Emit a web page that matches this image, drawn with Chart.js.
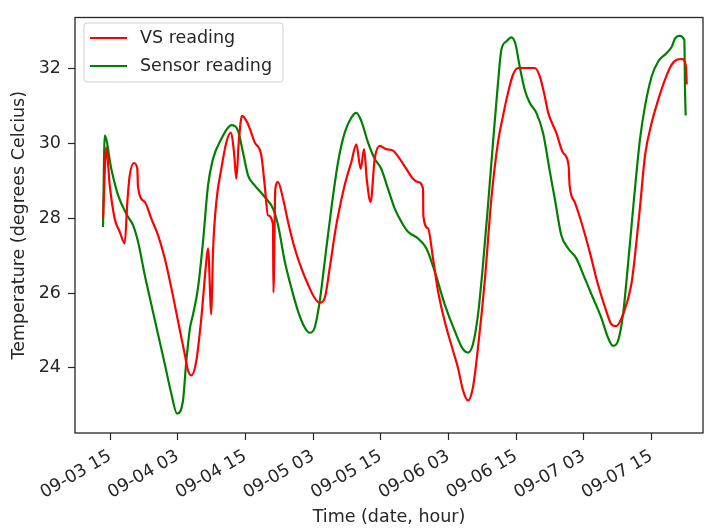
<!DOCTYPE html>
<html>
<head>
<meta charset="utf-8">
<script src="https://cdn.jsdelivr.net/npm/chart.js@4"></script>
<style>
  html, body { margin: 0; padding: 0; background: #fff; }
  #wrap { width: 705px; height: 531px; }
</style>
</head>
<body>
<div id="wrap"><canvas id="chart" width="705" height="531"></canvas></div>
<script>
// hours counted from 09-03 00:00
const vsHours = [13.76, 14.34, 14.95, 15.83, 16.72, 17.61, 18.07, 18.49, 19.26, 19.84, 19.96, 21.15, 22.32, 23.51,
  24.70, 25.87, 27.06, 28.24, 28.83, 29.41, 30.30, 31.19, 32.07, 32.38, 32.96, 33.26, 33.85, 34.73, 35.62, 36.40,
  36.99, 37.39, 37.82, 38.40, 39.34, 40.66, 41.83, 42.43, 43.01, 43.90, 43.97, 44.31, 44.79, 45.67, 46.56, 47.75,
  48.92, 50.11, 51.29, 52.18, 53.07, 53.95, 55.12, 56.31, 56.90, 57.78, 58.67, 59.45, 60.04, 60.55, 61.20, 61.93,
  62.82, 63.99, 65.18, 66.37, 67.54, 68.72, 69.61, 70.50, 70.55, 71.38, 72.27, 73.16, 74.34, 75.82, 76.70, 77.59,
  78.48, 79.36, 80.25, 81.44, 82.62, 83.79, 84.68, 85.57, 86.45, 87.34, 88.53, 90.30, 91.19, 92.07, 92.70, 94.12,
  95.30, 96.31, 96.49, 97.38, 98.55, 100.04, 101.52, 102.99, 103.88, 104.77, 105.96, 107.43, 108.09, 108.97,
  109.86, 111.05, 112.22, 113.40, 114.59, 115.48, 116.37, 117.13, 117.25];
const vsTemp = [28.0, 29.9, 28.88, 27.99, 27.64, 27.33, 28.44, 29.15, 29.48, 29.32, 28.84, 28.44, 27.99, 27.55,
  26.93, 26.14, 25.25, 24.37, 23.93, 23.8, 24.19, 25.34, 26.85, 27.2, 25.43, 27.11, 28.44, 29.32, 30.03, 30.29,
  29.76, 29.06, 30.03, 30.74, 30.56, 30.03, 29.68, 28.88, 28.08, 27.82, 26.02, 28.79, 28.97, 28.53, 27.91, 27.2,
  26.67, 26.23, 25.87, 25.74, 25.87, 26.67, 27.82, 28.7, 29.06, 29.5, 29.98, 29.32, 29.85, 29.0, 28.44, 29.59,
  29.94, 29.85, 29.81, 29.59, 29.32, 29.06, 28.97, 28.79, 28.08, 27.73, 26.93, 26.05, 25.25, 24.46, 24.0, 23.4,
  23.13, 23.49, 24.55, 26.32, 28.53, 30.03, 30.74, 31.36, 31.84, 32.02, 32.02, 32.02, 31.8, 31.27, 30.82, 30.29,
  29.76, 29.41, 28.88, 28.44, 27.91, 27.11, 26.23, 25.52, 25.17, 25.12, 25.43, 26.23, 27.02, 28.3,
  29.68, 30.56, 31.18, 31.71, 32.11, 32.24, 32.26, 32.06, 31.58];

const sensorHours = [13.76, 14.06, 15.23, 16.42, 18.19, 19.08, 19.96, 21.15, 22.32, 23.51, 24.70, 25.87, 26.88,
  27.94, 28.48, 29.18, 29.72, 30.60, 31.49, 32.38, 33.26, 34.73, 36.51, 37.70, 38.58, 39.47, 40.66, 42.43, 43.90,
  44.79, 45.98, 47.15, 48.33, 49.52, 50.41, 51.29, 52.18, 53.07, 54.24, 55.43, 56.61, 57.78, 58.67, 59.56, 60.74,
  61.93, 63.10, 64.29, 65.48, 66.65, 67.84, 69.61, 71.08, 72.57, 74.34, 76.12, 77.59, 78.48, 79.36, 80.25, 81.13,
  82.02, 82.91, 83.79, 84.38, 85.27, 86.15, 86.86, 87.64, 88.53, 89.41, 90.59, 91.77, 93.01, 93.85, 95.02, 96.21,
  97.68, 99.17, 100.64, 102.11, 103.30, 104.18, 105.07, 105.96, 106.84, 107.91, 108.97, 109.86, 111.05, 112.22,
  113.71, 114.59, 115.18, 115.94, 116.83, 116.95, 117.07];
const sensorTemp = [27.77, 30.21, 29.32, 28.62, 28.04, 27.82, 27.38, 26.49, 25.7, 24.9, 24.11, 23.31, 22.78,
  23.13, 24.1, 25.07, 25.43, 26.14, 27.38, 28.88, 29.59, 30.12, 30.49, 30.34, 29.76, 29.15, 28.88, 28.57, 28.26,
  27.82, 26.85, 26.14, 25.52, 25.08, 24.94, 25.08, 25.78, 26.85, 28.26, 29.5, 30.29, 30.69, 30.82, 30.6, 30.03,
  29.59, 29.32, 28.79, 28.26, 27.91, 27.64, 27.46, 27.2, 26.58, 25.7, 24.99, 24.5, 24.41, 24.64, 25.43, 26.76,
  28.35, 30.03, 31.62, 32.5, 32.73, 32.84, 32.68, 32.06, 31.44, 31.09, 30.82, 30.29, 29.23, 28.53, 27.55, 27.2,
  26.93, 26.4, 25.87, 25.34, 24.81, 24.59, 24.72, 25.43, 26.76, 28.53, 30.12, 31.0, 31.8, 32.2,
  32.42, 32.59, 32.81, 32.88, 32.77, 31.44, 30.75];

const xTicks = [15, 27, 39, 51, 63, 75, 87, 99, 111];
const yTicks = [24, 26, 28, 30, 32];
const seriesNames = ['VS reading', 'Sensor reading'];
const seriesColors = ['#ff0000', '#008000'];

const FONT = 'DejaVu Sans';
const FSIZE = 17.5;
const INK = '#262626';

function hourLabel(h) {
  const day = 3 + Math.floor(h / 24);
  const hour = h % 24;
  return '09-0' + day + ' ' + String(hour).padStart(2, '0');
}

function toPoints(xs, ys) {
  return xs.map((x, i) => ({ x: x, y: ys[i] }));
}

// spines on all four sides plus the legend box inside the plot
const framePlugin = {
  id: 'frame',
  afterDraw(chart) {
    const ctx = chart.ctx;
    const a = chart.chartArea;
    ctx.save();
    ctx.strokeStyle = INK;
    ctx.lineWidth = 1.3;
    ctx.strokeRect(a.left, a.top, a.right - a.left, a.bottom - a.top);

    const bx = 84, by = 23, bw = 199, bh = 59, r = 3;
    ctx.beginPath();
    ctx.moveTo(bx + r, by);
    ctx.arcTo(bx + bw, by, bx + bw, by + bh, r);
    ctx.arcTo(bx + bw, by + bh, bx, by + bh, r);
    ctx.arcTo(bx, by + bh, bx, by, r);
    ctx.arcTo(bx, by, bx + bw, by, r);
    ctx.closePath();
    ctx.fillStyle = 'rgba(255,255,255,0.8)';
    ctx.fill();
    ctx.strokeStyle = 'rgba(204,204,204,0.9)';
    ctx.lineWidth = 1;
    ctx.stroke();

    ctx.font = FSIZE + 'px "' + FONT + '"';
    ctx.textBaseline = 'middle';
    ctx.textAlign = 'left';
    seriesNames.forEach((name, i) => {
      const y = 38 + i * 28;
      ctx.strokeStyle = seriesColors[i];
      ctx.lineWidth = 2.2;
      ctx.beginPath();
      ctx.moveTo(90, y);
      ctx.lineTo(127, y);
      ctx.stroke();
      ctx.fillStyle = INK;
      ctx.fillText(name, 140, y);
    });
    ctx.restore();
  }
};

new Chart(document.getElementById('chart'), {
  type: 'line',
  data: {
    datasets: [
      { label: seriesNames[0], data: toPoints(vsHours, vsTemp), borderColor: seriesColors[0] },
      { label: seriesNames[1], data: toPoints(sensorHours, sensorTemp), borderColor: seriesColors[1] }
    ]
  },
  options: {
    responsive: false,
    animation: false,
    layout: { padding: { left: 0, right: 2, top: 14, bottom: 0 } },
    elements: {
      line: { borderWidth: 2.2, cubicInterpolationMode: 'monotone', fill: false },
      point: { radius: 0 }
    },
    plugins: {
      legend: { display: false },
      tooltip: { enabled: false }
    },
    scales: {
      x: {
        type: 'linear',
        min: 8.79,
        max: 120.14,
        afterFit(scale) { scale.height = 98; },
        afterBuildTicks(scale) { scale.ticks = xTicks.map(v => ({ value: v })); },
        grid: { drawOnChartArea: false, tickLength: 7, tickColor: INK, tickWidth: 1.2 },
        border: { display: false },
        ticks: {
          minRotation: 30, maxRotation: 30, padding: 6,
          color: INK, font: { family: FONT, size: FSIZE },
          callback: v => hourLabel(v)
        },
        title: {
          display: true, text: 'Time (date, hour)', color: INK,
          font: { family: FONT, size: FSIZE }, padding: { top: 0, bottom: 3 }
        }
      },
      y: {
        min: 22.26,
        max: 33.37,
        afterFit(scale) { scale.width = 75; },
        afterBuildTicks(scale) { scale.ticks = yTicks.map(v => ({ value: v })); },
        grid: { drawOnChartArea: false, tickLength: 7, tickColor: INK, tickWidth: 1.2 },
        border: { display: false },
        ticks: { padding: 7, color: INK, font: { family: FONT, size: FSIZE } },
        title: {
          display: true, text: 'Temperature (degrees Celcius)', color: INK,
          font: { family: FONT, size: FSIZE }, padding: { top: 9, bottom: 0 }
        }
      }
    }
  },
  plugins: [framePlugin]
});
</script>
</body>
</html>
